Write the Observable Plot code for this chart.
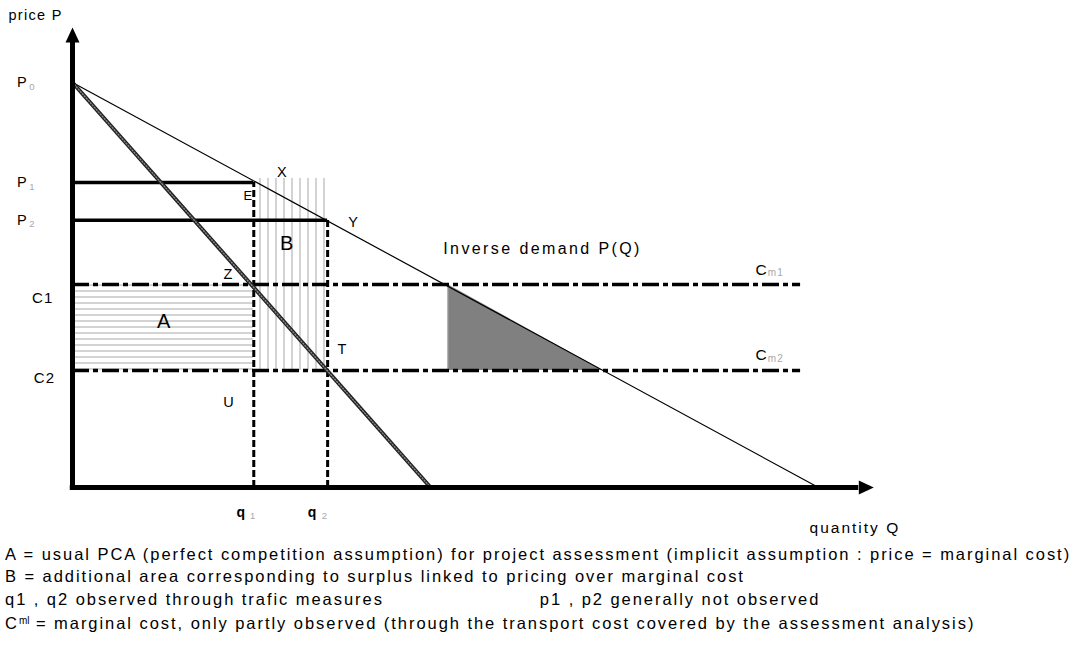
<!DOCTYPE html>
<html>
<head>
<meta charset="utf-8">
<script src="https://cdn.jsdelivr.net/npm/d3@7"></script>
<script src="https://cdn.jsdelivr.net/npm/@observablehq/plot@0.6"></script>
<style>
  html, body { margin: 0; padding: 0; background: #fff; }
  #chart { width: 1075px; }
  #caption {
    font-family: "Liberation Sans", Arial, sans-serif;
    font-size: 16.5px; line-height: 22.3px; color: #000;
    padding-left: 5px; letter-spacing: 1.95px; white-space: nowrap;
    margin-top: -1px;
  }
  #caption .gap { display: inline-block; width: 156px; }
  #caption .sup { font-size: 10px; vertical-align: 5px; letter-spacing: 0; }
</style>
</head>
<body>
<div id="chart"></div>
<div id="caption">
  <div>A = usual PCA (perfect competition assumption) for project assessment (implicit assumption : price = marginal cost)</div>
  <div>B = additional area corresponding to surplus linked to pricing over marginal cost</div>
  <div>q1 , q2 observed through trafic measures<span class="gap"></span>p1 , p2 generally not observed</div>
  <div>C<span class="sup">ml</span> = marginal cost, only partly observed (through the transport cost covered by the assessment analysis)</div>
</div>
<script>
// ---- values (Q: quantity units, P: price units) ----
const priceLevels = [
  {name: "P", sub: "0", P: 100},
  {name: "P", sub: "1", P: 75.3},
  {name: "P", sub: "2", P: 66}
];
const costLevels = [
  {name: "C1", sub: "m1", P: 50.1},
  {name: "C2", sub: "m2", P: 28.9}
];
const quantities = [
  {name: "q", sub: "1", Q: 24.3, top: 75.3},
  {name: "q", sub: "2", Q: 34.2, top: 66}
];
const demandCurve = [{Q: 0, P: 100}, {Q: 100, P: 0}];           // inverse demand P(Q)
const marginalCurve = [{Q: 0, P: 100}, {Q: 48, P: 0}];          // hatched steep line
const costLineEnd = 97.6;                                        // where Cm lines stop
const areaBTop = 76.3;                                           // top of vertical hatching
const lossTriangle = [{Q: 50.3, lo: 28.9, hi: 50.1}, {Q: 71.1, lo: 28.9, hi: 28.9}];
const axisEnds = {Q: 105.4, P: 109.9};

const pointLabels = [
  {t: "X", Q: 28.15, P: 77.8, s: 14.5},
  {t: "E", Q: 23.6, P: 71.9, s: 13},
  {t: "Y", Q: 37.7, P: 65.4, s: 14.5},
  {t: "B", Q: 28.8, P: 60.2, s: 20},
  {t: "Z", Q: 20.9, P: 52.6, s: 14.5},
  {t: "A", Q: 12.3, P: 41.0, s: 20},
  {t: "T", Q: 36.2, P: 34.1, s: 14.5},
  {t: "U", Q: 21.0, P: 21.0, s: 14.5}
];
const axisTitles = [
  {t: "price P", Q: -8.58, P: 116.5, s: 14.5, ls: 1.3},
  {t: "quantity Q", Q: 98.8, P: -10.1, s: 15.5, ls: 2},
  {t: "Inverse demand P(Q)", Q: 49.7, P: 58.8, s: 16, ls: 2.4}
];
const leftLabelQ = -6.7, leftSubQ = -5.8;
const costLabels = [{t: "C1", Q: -4.0, P: 46.7}, {t: "C2", Q: -3.75, P: 26.9}];
const cmLabels = [
  {c: "C", sub: "m1", Q: 92.4, P: 53.8, subQ: 93.2},
  {c: "C", sub: "m2", Q: 92.4, P: 32.6, subQ: 93.2}
];
const qLabelP = -6.2;
const qLabelOffsets = [{dq: -1.65, ds: -0.5}, {dq: -2.0, ds: -0.8}];

const font = "'Liberation Sans', Arial, sans-serif";

const plot = Plot.plot({
  width: 1075,
  height: 544,
  marginLeft: 72,
  marginRight: 182.4,
  marginTop: 1,
  marginBottom: 57,
  x: {domain: [0, 110], axis: null},
  y: {domain: [0, 120], axis: null},
  style: {fontFamily: font, letterSpacing: "1.2px", background: "#fff", color: "#000"},
  marks: [
    // hatched areas
    Plot.rect([{}], {x1: 0, x2: quantities[0].Q, y1: costLevels[1].P, y2: costLevels[0].P, fill: "url(#hatchH)"}),
    Plot.rect([{}], {x1: quantities[0].Q, x2: quantities[1].Q, y1: costLevels[1].P, y2: areaBTop, fill: "url(#hatchV)"}),
    // grey triangle
    Plot.areaY(lossTriangle, {x: "Q", y1: "lo", y2: "hi", fill: "#808080"}),
    Plot.ruleX([lossTriangle[0]], {x: "Q", y1: "lo", y2: "hi", stroke: "#bdbdbd", strokeWidth: 1}),
    // price levels P1, P2
    Plot.ruleY(priceLevels.slice(1), {y: "P", x1: 0, x2: (d, i) => quantities[i].Q, strokeWidth: 3.5}),
    // cost levels (dash-dot)
    Plot.ruleY(costLevels, {y: "P", x1: 0, x2: costLineEnd, strokeWidth: 3.5, strokeDasharray: "17,4,5,4"}),
    // quantity verticals
    Plot.ruleX(quantities, {x: "Q", y1: 0, y2: "top", strokeWidth: 3, strokeDasharray: "7,3"}),
    // demand
    Plot.line(demandCurve, {x: "Q", y: "P", stroke: "#000", strokeWidth: 1.2}),
    // hatched marginal line
    Plot.line(marginalCurve, {x: "Q", y: "P", stroke: "#222", strokeWidth: 4}),
    Plot.line(marginalCurve, {x: "Q", y: "P", stroke: "#888", strokeWidth: 1.4, strokeDasharray: "1,2"}),
    // axes
    Plot.ruleX([0], {y1: 0, y2: axisEnds.P, strokeWidth: 5}),
    Plot.ruleY([0], {x1: -0.3, x2: axisEnds.Q, strokeWidth: 5}),
    Plot.vector([{Q: 0, P: axisEnds.P}], {x: "Q", y: "P", length: 15, rotate: 0, shape: "spike", r: 7, anchor: "start", fill: "#000", stroke: "none"}),
    Plot.vector([{Q: axisEnds.Q, P: 0}], {x: "Q", y: "P", length: 15, rotate: 90, shape: "spike", r: 7, anchor: "start", fill: "#000", stroke: "none"}),
    // left labels
    Plot.text(priceLevels, {x: () => leftLabelQ, y: "P", text: "name", fontSize: 14.5}),
    Plot.text(priceLevels, {x: () => leftSubQ, y: "P", text: "sub", fontSize: 9.5, fill: "#a8a8a8", dy: 4, textAnchor: "start"}),
    Plot.text(costLabels, {x: "Q", y: "P", text: "t", fontSize: 15}),
    // point labels
    Plot.text(pointLabels, {x: "Q", y: "P", text: "t", fontSize: "s"}),
    // titles
    ...axisTitles.map(d => Plot.text([d], {x: "Q", y: "P", text: "t", fontSize: d.s, textAnchor: "start", style: {letterSpacing: d.ls + "px"}})),
    // Cm labels
    Plot.text(cmLabels, {x: "Q", y: "P", text: "c", fontSize: 15.5}),
    Plot.text(cmLabels, {x: "subQ", y: "P", text: "sub", fontSize: 10, fill: "#a8a8a8", dy: 3, textAnchor: "start"}),
    // q labels
    Plot.text(quantities, {x: (d, i) => d.Q + qLabelOffsets[i].dq, y: () => qLabelP, text: "name", fontSize: 14, fontWeight: "bold"}),
    Plot.text(quantities, {x: (d, i) => d.Q + qLabelOffsets[i].ds, y: () => qLabelP, text: "sub", fontSize: 9.5, fill: "#a8a8a8", dy: 3, textAnchor: "start"})
  ]
});

// hatch patterns
const svg = d3.select(plot);
const defs = svg.insert("defs", ":first-child");
const ph = defs.append("pattern").attr("id", "hatchH").attr("patternUnits", "userSpaceOnUse")
  .attr("width", 10).attr("height", 6);
ph.append("rect").attr("width", 10).attr("height", 6).attr("fill", "#fff");
ph.append("line").attr("x1", 0).attr("x2", 10).attr("y1", 3).attr("y2", 3).attr("stroke", "#c8c8c8").attr("stroke-width", 1.6);
const pv = defs.append("pattern").attr("id", "hatchV").attr("patternUnits", "userSpaceOnUse")
  .attr("width", 8).attr("height", 10);
pv.append("rect").attr("width", 8).attr("height", 10).attr("fill", "#fff");
pv.append("line").attr("y1", 0).attr("y2", 10).attr("x1", 4).attr("x2", 4).attr("stroke", "#c8c8c8").attr("stroke-width", 1.6);

// per-title letter spacing
svg.selectAll("g[aria-label='text'] text").each(function() {
  const t = this.textContent;
  const m = axisTitles.find(d => d.t === t);
  if (m) this.style.letterSpacing = m.ls + "px";
});

document.getElementById("chart").appendChild(plot);
</script>
</body>
</html>
